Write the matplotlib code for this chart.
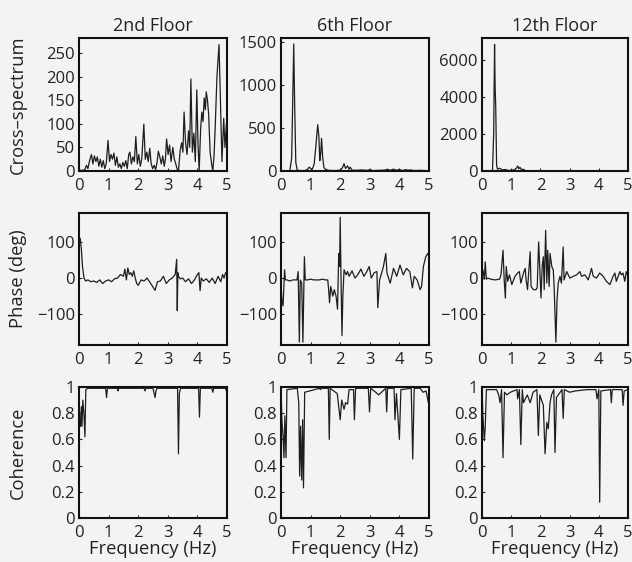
import matplotlib
matplotlib.use("Agg")
import matplotlib.pyplot as plt

# ---- data (Hz, value) ----
floors = ["2nd Floor", "6th Floor", "12th Floor"]

# cross-spectrum
cs2_f = [0.0, 0.1, 0.2, 0.25, 0.3, 0.35, 0.42, 0.47, 0.52, 0.57, 0.62, 0.67, 0.72, 0.77, 0.82, 0.87,
         0.92, 0.98, 1.03, 1.08, 1.13, 1.18, 1.23, 1.28, 1.33, 1.38, 1.43, 1.48, 1.53, 1.58, 1.63, 1.68,
         1.72, 1.77, 1.82, 1.87, 1.92, 1.97, 2.02, 2.07, 2.12, 2.19, 2.24, 2.29, 2.34, 2.39, 2.44, 2.49,
         2.54, 2.59, 2.64, 2.68, 2.73, 2.78, 2.83, 2.88, 2.92, 2.96, 3.01, 3.06, 3.11, 3.17, 3.22, 3.27,
         3.31, 3.36, 3.42, 3.47, 3.51, 3.55, 3.6, 3.65, 3.7, 3.74, 3.78, 3.83, 3.88, 3.93, 3.98, 4.02,
         4.06, 4.11, 4.15, 4.19, 4.23, 4.27, 4.3, 4.34, 4.38, 4.43, 4.48, 4.52, 4.56, 4.6, 4.66, 4.73,
         4.77, 4.83, 4.89, 4.93, 4.98, 5.0]
cs2_v = [2, 1, 3, 12, 5, 20, 35, 15, 32, 20, 30, 10, 25, 8, 22, 5,
         15, 65, 20, 35, 25, 38, 12, 30, 8, 15, 5, 18, 10, 22, 5, 35,
         40, 15, 30, 20, 73, 15, 35, 10, 25, 99, 25, 40, 20, 48, 15, 5,
         12, 3, 20, 42, 30, 15, 32, 10, 25, 68, 35, 55, 20, 50, 25, 15,
         5, 0, 45, 60, 40, 125, 60, 35, 85, 50, 195, 40, 80, 20, 172, 60,
         0, 90, 125, 105, 155, 130, 168, 150, 120, 40, 15, 0, 30, 90, 200, 268,
         170, 20, 112, 50, 100, 60]

cs6_f = [0, 0.2, 0.3, 0.36, 0.4, 0.43, 0.46, 0.5, 0.55, 0.65, 0.8, 0.9, 0.95, 1.0, 1.05, 1.12,
         1.18, 1.24, 1.28, 1.31, 1.34, 1.37, 1.41, 1.45, 1.5, 1.6, 1.8, 2.0, 2.08, 2.13, 2.18, 2.25,
         2.3, 2.34, 2.4, 2.5, 2.7, 2.9, 3.0, 3.1, 3.3, 3.5, 3.6, 3.7, 3.8, 3.9, 4.0, 4.1,
         4.2, 4.3, 4.4, 4.5, 4.7, 4.9, 5.0]
cs6_v = [0, 0, 5, 150, 900, 1480, 800, 100, 10, 5, 5, 20, 45, 30, 15, 80,
         300, 540, 400, 120, 200, 380, 150, 40, 20, 8, 5, 10, 40, 85, 30, 60,
         20, 45, 10, 8, 12, 8, 15, 5, 8, 10, 20, 8, 22, 8, 18, 5,
         15, 10, 12, 5, 8, 5, 3]

cs12_f = [0, 0.3, 0.36, 0.4, 0.43, 0.45, 0.47, 0.5, 0.53, 0.6, 0.7, 0.8, 0.9, 1.0, 1.1, 1.18,
          1.22, 1.26, 1.3, 1.35, 1.4, 1.5, 1.7, 2.0, 2.5, 3.0, 3.5, 4.0, 4.5, 5.0]
cs12_v = [0, 0, 50, 2000, 6850, 4500, 3500, 300, 100, 150, 60, 80, 30, 40, 60, 150,
          270, 120, 200, 60, 100, 20, 10, 15, 10, 8, 10, 5, 8, 5]

# phase (deg)
ph2_f = [0, 0.04, 0.08, 0.12, 0.17, 0.22, 0.3, 0.4, 0.5, 0.6, 0.7, 0.8, 0.9, 1.0, 1.1, 1.2,
         1.3, 1.4, 1.5, 1.55, 1.6, 1.65, 1.7, 1.75, 1.8, 1.85, 1.9, 1.95, 2.0, 2.1, 2.2, 2.3,
         2.4, 2.5, 2.57, 2.65, 2.75, 2.85, 2.95, 3.05, 3.15, 3.25, 3.3, 3.32, 3.34, 3.36, 3.42, 3.5,
         3.6, 3.7, 3.8, 3.9, 4.0, 4.05, 4.09, 4.13, 4.2, 4.3, 4.4, 4.5, 4.6, 4.7, 4.79, 4.85,
         4.9, 4.95, 5.0]
ph2_v = [95, 110, 80, 30, 0, -8, -5, -10, -8, -12, -5, -15, -8, -5, -10, -2,
         0, 10, 5, 25, -5, 28, 10, 15, 5, 20, 0, -15, -20, -5, -8, 0,
         -12, -25, -34, -10, -8, 5, -15, -5, 0, 10, 52, -90, 15, 5, -2, 0,
         -10, -2, -15, -5, 10, 15, -35, 0, -8, -2, -12, 0, -15, 5, -10, 10,
         0, 15, 12]

ph6_f = [0, 0.03, 0.07, 0.12, 0.15, 0.2, 0.3, 0.4, 0.5, 0.54, 0.58, 0.62, 0.65, 0.7, 0.74, 0.79,
         0.82, 0.9, 1.0, 1.1, 1.2, 1.3, 1.4, 1.5, 1.58, 1.61, 1.64, 1.68, 1.75, 1.8, 1.86, 1.91,
         1.95, 1.98, 2.0, 2.03, 2.06, 2.09, 2.13, 2.2, 2.25, 2.3, 2.4, 2.5, 2.6, 2.7, 2.8, 2.9,
         2.98, 3.05, 3.15, 3.24, 3.27, 3.33, 3.4, 3.46, 3.54, 3.58, 3.69, 3.8, 3.91, 4.02, 4.13, 4.24,
         4.35, 4.44, 4.5, 4.6, 4.7, 4.75, 4.81, 4.89, 4.96, 5.0]
ph6_v = [-14, -60, -77, 23, -5, -5, -8, -5, -5, -5, 18, -177, -5, -14, -177, 59,
         -5, -5, -3, -5, -5, -5, -3, -5, -5, -32, -68, -23, -50, -32, -50, -86,
         68, 32, 168, -14, -159, -50, 23, 9, 18, 5, 20, 0, 10, 25, 5, 18,
         32, 0, 15, 18, -82, -5, 14, 32, 68, 14, -14, 27, 5, 36, 9, 27,
         18, -27, 5, -5, -32, -23, 32, 59, 68, 60]

ph12_f = [0, 0.03, 0.08, 0.11, 0.15, 0.19, 0.3, 0.45, 0.6, 0.65, 0.72, 0.76, 0.8, 0.83, 0.88, 0.94,
          1.02, 1.13, 1.22, 1.28, 1.33, 1.42, 1.48, 1.51, 1.56, 1.59, 1.65, 1.68, 1.76, 1.85, 1.89, 1.94,
          1.99, 2.02, 2.06, 2.1, 2.13, 2.18, 2.22, 2.25, 2.3, 2.33, 2.39, 2.44, 2.47, 2.53, 2.57, 2.61,
          2.67, 2.72, 2.78, 2.81, 2.9, 3.01, 3.13, 3.24, 3.35, 3.41, 3.52, 3.64, 3.69, 3.75, 3.81, 3.92,
          4.03, 4.15, 4.26, 4.38, 4.49, 4.55, 4.6, 4.72, 4.77, 4.83, 4.89, 4.94, 5.0]
ph12_v = [-5, 23, -3, 45, -3, 0, -3, -5, -3, 9, 77, -5, -55, 32, -9, 9,
          -18, 5, 14, 18, -14, 14, 27, -5, -32, 5, 73, -23, -32, -32, -27, 100,
          5, -55, 32, 59, -32, 132, -14, 77, -23, 68, 32, 23, -23, -177, -59, -14,
          5, -14, 86, -5, 18, 0, 5, 9, 18, 5, 9, -5, 9, 27, 5, 0,
          14, 5, -9, -18, 5, 14, -9, 18, 9, 14, -9, 18, 5]

# coherence
co2_f = [0, 0.02, 0.05, 0.08, 0.1, 0.13, 0.17, 0.2, 0.23, 0.3, 0.9, 0.93, 0.96, 1.3, 1.32, 1.34,
         2.2, 2.23, 2.26, 2.5, 2.54, 2.57, 2.6, 2.63, 3.33, 3.36, 3.39, 3.43, 4.04, 4.07, 4.1, 4.49,
         4.52, 4.55, 4.95, 4.98, 5.0]
co2_v = [1, 0.75, 0.7, 0.85, 0.7, 0.9, 0.78, 0.62, 0.98, 0.99, 0.99, 0.92, 0.99, 0.99, 0.97, 0.99,
         0.99, 0.97, 0.99, 0.99, 0.95, 0.92, 0.97, 0.99, 0.99, 0.49, 0.95, 0.99, 0.99, 0.77, 0.99, 0.99,
         0.96, 0.99, 0.99, 0.97, 0.99]

co6_f = [0, 0.03, 0.07, 0.1, 0.13, 0.17, 0.2, 0.55, 0.6, 0.63, 0.66, 0.7, 0.73, 0.76, 0.8, 1.3,
         1.33, 1.36, 1.6, 1.63, 1.66, 1.9, 2.0, 2.05, 2.13, 2.18, 2.25, 2.3, 2.45, 2.48, 2.52, 2.95,
         2.99, 3.03, 3.2, 3.3, 3.54, 3.57, 3.6, 3.82, 3.85, 3.9, 4.0, 4.05, 4.4, 4.45, 4.5, 4.7,
         4.8, 4.9, 4.98, 5.0]
co6_v = [1, 0.75, 0.62, 0.46, 0.78, 0.46, 0.98, 0.99, 0.88, 0.32, 0.7, 0.29, 0.75, 0.23, 0.96, 0.99,
         0.98, 0.99, 0.99, 0.6, 0.99, 0.95, 0.75, 0.9, 0.83, 0.88, 0.87, 0.98, 0.98, 0.75, 0.99, 0.99,
         0.81, 0.99, 0.96, 0.94, 0.99, 0.81, 0.99, 0.99, 0.75, 0.95, 0.6, 0.98, 0.99, 0.45, 0.99, 0.99,
         0.96, 0.97, 0.88, 0.95]

co12_f = [0, 0.03, 0.08, 0.11, 0.15, 0.5, 0.57, 0.62, 0.67, 0.72, 0.77, 0.85, 0.97, 1.2, 1.22, 1.28,
          1.33, 1.38, 1.42, 1.55, 1.65, 1.75, 1.88, 1.93, 1.98, 2.1, 2.16, 2.22, 2.27, 2.33, 2.38, 2.46,
          2.5, 2.55, 2.74, 2.78, 2.82, 3.0, 3.2, 3.6, 3.9, 3.94, 4.0, 4.03, 4.07, 4.4, 4.43, 4.46,
          4.8, 4.83, 4.87, 5.0]
co12_v = [1, 0.78, 0.59, 0.69, 0.98, 0.98, 0.94, 0.88, 0.98, 0.46, 0.96, 0.94, 0.96, 0.98, 0.91, 0.98,
          0.56, 0.98, 0.88, 0.94, 0.88, 0.96, 0.98, 0.63, 0.94, 0.86, 0.49, 0.73, 0.68, 0.88, 0.94, 0.98,
          0.5, 0.92, 0.98, 0.76, 0.98, 0.96, 0.97, 0.98, 0.98, 0.91, 0.98, 0.12, 0.97, 0.98, 0.88, 0.98,
          0.98, 0.86, 0.97, 0.98]

cs_data = [(cs2_f, cs2_v), (cs6_f, cs6_v), (cs12_f, cs12_v)]
ph_data = [(ph2_f, ph2_v), (ph6_f, ph6_v), (ph12_f, ph12_v)]
co_data = [(co2_f, co2_v), (co6_f, co6_v), (co12_f, co12_v)]

cs_ticks = [[0, 50, 100, 150, 200, 250], [0, 500, 1000, 1500], [0, 2000, 4000, 6000]]
cs_ylim = [(0, 282), (0, 1550), (0, 7200)]
ph_ticks = [-100, 0, 100]
co_ticks = [0, 0.2, 0.4, 0.6, 0.8, 1]
co_ticklabels = ["0", "0.2", "0.4", "0.6", "0.8", "1"]
x_ticks = [0, 1, 2, 3, 4, 5]

# ---- figure ----
plt.rcParams['font.family'] = ['Open Sans', 'DejaVu Sans']
bg = '#f3f3f1'
line_col = '#1e1e1e'
txt_col = '#222222'
tick_fs = 12
label_fs = 13.2

fig = plt.figure(figsize=(6.32, 5.62), dpi=100, facecolor=bg)

col_left = [79 / 632, 281 / 632, 482 / 632]
col_w = [148 / 632, 148 / 632, 146 / 632]
row_bottom = [1 - 171 / 562, 1 - 345 / 562, 1 - 518 / 562]
row_h = [133 / 562, 132 / 562, 131 / 562]

def style(ax):
    ax.set_facecolor(bg)
    for s in ax.spines.values():
        s.set_linewidth(1.5)
        s.set_color('#111111')
    ax.tick_params(direction='in', length=2, width=0.8, labelsize=tick_fs, colors=txt_col)
    ax.tick_params(axis='x', pad=5)
    ax.tick_params(axis='y', pad=3)
    ax.set_xlim(0, 5)
    ax.set_xticks(x_ticks)

for c in range(3):
    # cross-spectrum row
    ax = fig.add_axes([col_left[c], row_bottom[0], col_w[c], row_h[0]])
    style(ax)
    ax.plot(cs_data[c][0], cs_data[c][1], color=line_col, lw=0.9)
    ax.set_ylim(*cs_ylim[c])
    ax.set_yticks(cs_ticks[c])
    ax.set_title(floors[c], fontsize=13, pad=5, color=txt_col)

    # phase row
    ax = fig.add_axes([col_left[c], row_bottom[1], col_w[c], row_h[1]])
    style(ax)
    ax.plot(ph_data[c][0], ph_data[c][1], color=line_col, lw=0.9)
    ax.set_ylim(-185, 180)
    ax.set_yticks(ph_ticks)

    # coherence row
    ax = fig.add_axes([col_left[c], row_bottom[2], col_w[c], row_h[2]])
    style(ax)
    ax.plot(co_data[c][0], co_data[c][1], color=line_col, lw=0.9)
    ax.set_ylim(0, 1.0)
    ax.set_yticks(co_ticks)
    ax.set_yticklabels(co_ticklabels)
    ax.set_xlabel("Frequency (Hz)", fontsize=label_fs, labelpad=-1, color=txt_col)

# row labels
fig.text(18 / 632, 1 - 105 / 562, "Cross–spectrum", rotation=90, ha='center', va='center', fontsize=label_fs, color=txt_col)
fig.text(18 / 632, 1 - 279 / 562, "Phase (deg)", rotation=90, ha='center', va='center', fontsize=label_fs, color=txt_col)
fig.text(18 / 632, 1 - 453 / 562, "Coherence", rotation=90, ha='center', va='center', fontsize=label_fs, color=txt_col)

fig.savefig("out.png", dpi=100, facecolor=bg)
